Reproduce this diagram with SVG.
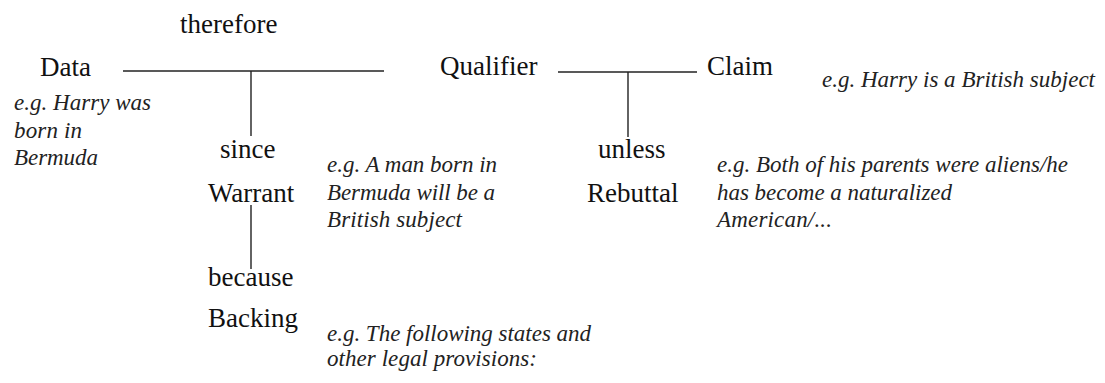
<svg xmlns="http://www.w3.org/2000/svg" width="1105" height="383" viewBox="0 0 1105 383">
<defs>
<style>
line{stroke:#222;stroke-width:1.4}
</style>
</defs>
<rect width="1105" height="383" fill="#fff"/>
<g id="connectors" stroke="#222" stroke-width="1.4">
<line x1="123" y1="71" x2="384" y2="71"/>
<line x1="251" y1="71" x2="251" y2="136"/>
<line x1="558" y1="72" x2="697" y2="72"/>
<line x1="628" y1="72" x2="628" y2="137"/>
<line x1="251" y1="205" x2="251" y2="269"/>
</g>
<g font-family="Liberation Serif" fill="#111">
<g font-size="27">
<g id="therefore"><text x="180" y="33">therefore</text></g>
<g id="data-label"><text x="40" y="76">Data</text></g>
<g id="qualifier"><text x="440" y="75">Qualifier</text></g>
<g id="claim-label"><text x="707" y="75">Claim</text></g>
<g id="warrant-label"><text x="220" y="158">since</text><text x="208" y="202">Warrant</text></g>
<g id="rebuttal-label"><text x="598" y="158">unless</text><text x="587" y="202">Rebuttal</text></g>
<g id="backing-label"><text x="208" y="286">because</text><text x="208" y="327">Backing</text></g>
</g>
<g font-size="23" font-style="italic" fill="#222">
<g id="data-example">
<text x="14" y="110" textLength="137" lengthAdjust="spacing">e.g. Harry was</text>
<text x="14" y="137.5" textLength="68" lengthAdjust="spacing">born in</text>
<text x="14" y="165" textLength="84" lengthAdjust="spacing">Bermuda</text>
</g>
<g id="claim-example">
<text x="822" y="87" textLength="273" lengthAdjust="spacing">e.g. Harry is a British subject</text>
</g>
<g id="warrant-example">
<text x="327" y="172" textLength="170" lengthAdjust="spacing">e.g. A man born in</text>
<text x="327" y="200" textLength="168" lengthAdjust="spacing">Bermuda will be a</text>
<text x="327" y="227" textLength="135" lengthAdjust="spacing">British subject</text>
</g>
<g id="rebuttal-example">
<text x="717" y="172" textLength="351" lengthAdjust="spacing">e.g. Both of his parents were aliens/he</text>
<text x="717" y="200" textLength="235" lengthAdjust="spacing">has become a naturalized</text>
<text x="717" y="227" textLength="115" lengthAdjust="spacing">American/...</text>
</g>
<g id="backing-example">
<text x="327" y="341" textLength="264" lengthAdjust="spacing">e.g. The following states and</text>
<text x="327" y="366" textLength="210" lengthAdjust="spacing">other legal provisions:</text>
</g>
</g>
</g>
</svg>
